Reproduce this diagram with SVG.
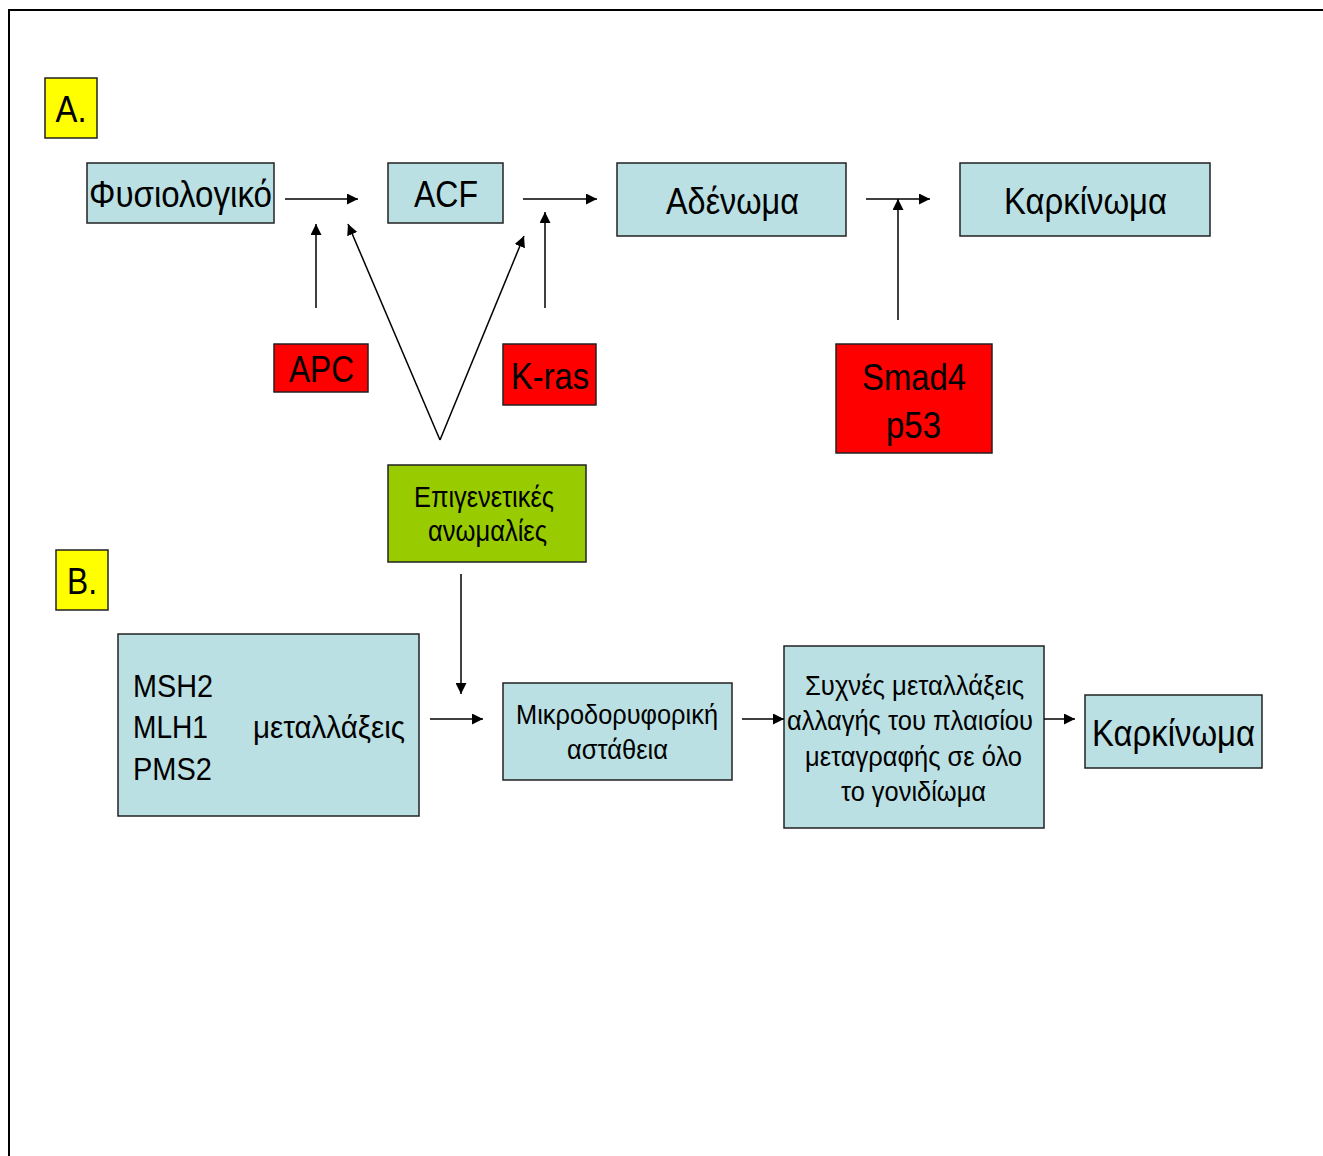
<svg xmlns="http://www.w3.org/2000/svg" width="1323" height="1156" viewBox="0 0 1323 1156">
<style>
text{font-family:"Liberation Sans Narrow","Liberation Sans",Arial,sans-serif;fill:#000;text-anchor:middle}
.b{fill:#BBE0E3;stroke:#222;stroke-width:1.5}
.r{fill:#FF0000;stroke:#222;stroke-width:1.5}
.y{fill:#FFFF00;stroke:#222;stroke-width:1.5}
.g{fill:#99CC00;stroke:#222;stroke-width:1.5}
.c line{stroke:#000;stroke-width:1.5;fill:none}
</style>
<defs>
<marker id="ah2" viewBox="0 0 10 10" refX="10" refY="5" markerWidth="11" markerHeight="11" markerUnits="userSpaceOnUse" orient="auto"><path d="M0,0 L10,5 L0,10 z" fill="#000"/></marker>
</defs>
<rect width="1323" height="1156" fill="#fff"/>
<polyline points="9,1156 9,10 1323,10" fill="none" stroke="#000" stroke-width="2"/>

<g id="labelA"><rect class="y" x="45" y="78" width="52" height="60"/><text x="71" y="122" font-size="36" textLength="31" lengthAdjust="spacingAndGlyphs">A.</text></g>
<g id="fysio"><rect class="b" x="87" y="163" width="187" height="60"/><text x="180.5" y="207" font-size="36" textLength="183" lengthAdjust="spacingAndGlyphs">Φυσιολογικό</text></g>
<g id="acf"><rect class="b" x="388" y="163" width="115" height="60"/><text x="446" y="207" font-size="36" textLength="64" lengthAdjust="spacingAndGlyphs">ACF</text></g>
<g id="adenoma"><rect class="b" x="617" y="163" width="229" height="73"/><text x="732.5" y="214" font-size="36" textLength="133" lengthAdjust="spacingAndGlyphs">Αδένωμα</text></g>
<g id="karkinomaA"><rect class="b" x="960" y="163" width="250" height="73"/><text x="1085.5" y="214" font-size="36" textLength="163" lengthAdjust="spacingAndGlyphs">Καρκίνωμα</text></g>
<g id="apc"><rect class="r" x="274" y="344" width="94" height="48"/><text x="321.5" y="382" font-size="36" textLength="65" lengthAdjust="spacingAndGlyphs">APC</text></g>
<g id="kras"><rect class="r" x="503" y="344" width="93" height="61"/><text x="550" y="389" font-size="36" textLength="78" lengthAdjust="spacingAndGlyphs">K-ras</text></g>
<g id="smad4"><rect class="r" x="836" y="344" width="156" height="109"/><text x="914" y="390" font-size="36" textLength="104" lengthAdjust="spacingAndGlyphs">Smad4</text><text x="913.5" y="438" font-size="36" textLength="55" lengthAdjust="spacingAndGlyphs">p53</text></g>
<g id="epigen"><rect class="g" x="388" y="465" width="198" height="97"/><text x="484" y="507" font-size="29" textLength="140" lengthAdjust="spacingAndGlyphs">Επιγενετικές</text><text x="487.5" y="541" font-size="29" textLength="119" lengthAdjust="spacingAndGlyphs">ανωμαλίες</text></g>
<g id="labelB"><rect class="y" x="56" y="550" width="52" height="60"/><text x="82" y="594" font-size="36" textLength="30" lengthAdjust="spacingAndGlyphs">B.</text></g>
<g id="mmr"><rect class="b" x="118" y="634" width="301" height="182"/>
<text x="133" y="697" font-size="32" style="text-anchor:start" textLength="80" lengthAdjust="spacingAndGlyphs">MSH2</text>
<text x="133" y="738" font-size="32" style="text-anchor:start" textLength="75" lengthAdjust="spacingAndGlyphs">MLH1</text>
<text x="133" y="780" font-size="32" style="text-anchor:start" textLength="79" lengthAdjust="spacingAndGlyphs">PMS2</text>
<text x="253" y="738" font-size="32" style="text-anchor:start" textLength="152" lengthAdjust="spacingAndGlyphs">μεταλλάξεις</text></g>
<g id="msi"><rect class="b" x="503" y="683" width="229" height="97"/><text x="617" y="724" font-size="28" textLength="202" lengthAdjust="spacingAndGlyphs">Μικροδορυφορική</text><text x="617.5" y="759" font-size="28" textLength="101" lengthAdjust="spacingAndGlyphs">αστάθεια</text></g>
<g id="frameshift"><rect class="b" x="784" y="646" width="260" height="182"/>
<text x="914.5" y="695" font-size="28" textLength="219" lengthAdjust="spacingAndGlyphs">Συχνές μεταλλάξεις</text>
<text x="910" y="730" font-size="28" textLength="246" lengthAdjust="spacingAndGlyphs">αλλαγής του πλαισίου</text>
<text x="913.5" y="766" font-size="28" textLength="217" lengthAdjust="spacingAndGlyphs">μεταγραφής σε όλο</text>
<text x="913.5" y="801" font-size="28" textLength="145" lengthAdjust="spacingAndGlyphs">το γονιδίωμα</text></g>
<g id="karkinomaB"><rect class="b" x="1085" y="695" width="177" height="73"/><text x="1173.5" y="746" font-size="36" textLength="163" lengthAdjust="spacingAndGlyphs">Καρκίνωμα</text></g>

<g id="connectors" class="c">
<line x1="285" y1="199" x2="358" y2="199" marker-end="url(#ah2)"/>
<line x1="523" y1="199" x2="597" y2="199" marker-end="url(#ah2)"/>
<line x1="866" y1="199" x2="930" y2="199" marker-end="url(#ah2)"/>
<line x1="316" y1="308" x2="316" y2="224" marker-end="url(#ah2)"/>
<line x1="545" y1="308" x2="545" y2="212" marker-end="url(#ah2)"/>
<line x1="898" y1="320" x2="898" y2="199" marker-end="url(#ah2)"/>
<line x1="440" y1="440" x2="348" y2="224" marker-end="url(#ah2)"/>
<line x1="440" y1="440" x2="524" y2="236" marker-end="url(#ah2)"/>
<line x1="461" y1="574" x2="461" y2="694" marker-end="url(#ah2)"/>
<line x1="430" y1="719" x2="483" y2="719" marker-end="url(#ah2)"/>
<line x1="742" y1="719" x2="784" y2="719" marker-end="url(#ah2)"/>
<line x1="1044" y1="719" x2="1075" y2="719" marker-end="url(#ah2)"/>
</g>
</svg>
